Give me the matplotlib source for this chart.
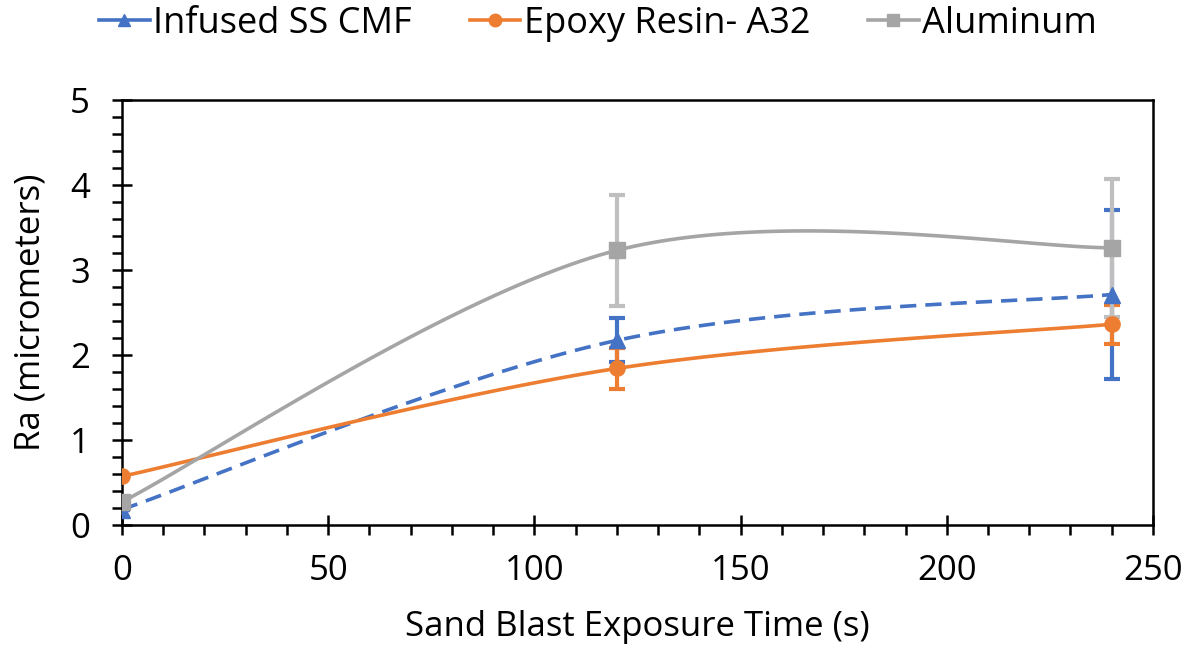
import numpy as np
import matplotlib
matplotlib.use("Agg")
import matplotlib.pyplot as plt
from matplotlib.ticker import MultipleLocator

x = [0, 120, 240]
infused = [0.18, 2.17, 2.71]
infused_err = [0.0, 0.26, 1.0]
epoxy = [0.57, 1.84, 2.36]
epoxy_err = [0.0, 0.24, 0.23]
alum = [0.27, 3.23, 3.26]
alum_err = [0.0, 0.65, 0.81]

labels = ["Infused SS CMF", "Epoxy Resin- A32", "Aluminum"]
colors = ["#4472C4", "#ED7D31", "#A5A5A5"]
err_colors = ["#4472C4", "#ED7D31", "#BFBFBF"]


def smooth(xs, ys, n=60):
    # Excel-style smoothed line: cubic Bezier, tangent = (P[i+1]-P[i-1])/6
    P = np.column_stack([xs, ys]).astype(float)
    m = len(P)
    out = []
    for i in range(m - 1):
        p0, p3 = P[i], P[i + 1]
        prev = P[i - 1] if i > 0 else P[i]
        nxt = P[i + 2] if i + 2 < m else P[i + 1]
        c1 = p0 + (p3 - prev) / 6.0
        c2 = p3 - (nxt - p0) / 6.0
        t = np.linspace(0, 1, n)[:, None]
        seg = ((1 - t) ** 3) * p0 + 3 * ((1 - t) ** 2) * t * c1 + 3 * (1 - t) * t ** 2 * c2 + t ** 3 * p3
        out.append(seg if i == 0 else seg[1:])
    c = np.vstack(out)
    return c[:, 0], c[:, 1]


plt.rcParams['font.family'] = ['Open Sans', 'DejaVu Sans']
fig = plt.figure(figsize=(11.96, 6.66), dpi=100)
ax = fig.add_axes([0.102, 0.212, 0.862, 0.638])

series = [(infused, infused_err, '^', '--'), (epoxy, epoxy_err, 'o', '-'), (alum, alum_err, 's', '-')]
err_z = [2, 3, 4]
handles = []
for i, (ys, es, mk, ls) in enumerate(series):
    ax.errorbar(x, ys, yerr=es, fmt='none', ecolor=err_colors[i], elinewidth=3.0,
                capsize=6, capthick=3.0, zorder=err_z[i])
    sx, sy = smooth(x, ys)
    if ls == '--':
        ax.plot(sx, sy, color=colors[i], lw=2.6, ls='--', dashes=(4.5, 2.5), zorder=5 + i)
    else:
        ax.plot(sx, sy, color=colors[i], lw=2.6, zorder=5 + i)
    ax.plot(x, ys, ls='none', marker=mk, ms=11, color=colors[i], zorder=8 + i)
    h, = ax.plot([], [], color=colors[i], lw=2.6, marker=mk, ms=9)
    handles.append(h)

ax.set_xlim(0, 250)
ax.set_ylim(0, 5)
ax.xaxis.set_major_locator(MultipleLocator(50))
ax.xaxis.set_minor_locator(MultipleLocator(10))
ax.yaxis.set_major_locator(MultipleLocator(1))
ax.yaxis.set_minor_locator(MultipleLocator(0.2))
ax.tick_params(axis='both', which='major', direction='inout', length=14, width=1.8,
               labelsize=25, colors='black')
ax.tick_params(axis='x', which='minor', direction='out', length=7, width=1.8)
ax.tick_params(axis='y', which='minor', direction='out', length=7, width=1.8)
ax.tick_params(axis='x', which='major', pad=14)
ax.tick_params(axis='y', which='major', pad=16)
for s in ax.spines.values():
    s.set_linewidth(1.8)
    s.set_color('black')

ax.set_xlabel("Sand Blast Exposure Time (s)", fontsize=25, labelpad=16)
ax.set_ylabel("Ra (micrometers)", fontsize=25, labelpad=16)

fig.legend(handles, labels, loc='upper center', bbox_to_anchor=(0.5, 1.04), ncol=3,
           frameon=False, fontsize=26, handlelength=1.4, handletextpad=0.1, columnspacing=1.6)

fig.savefig("out.png", dpi=100)
